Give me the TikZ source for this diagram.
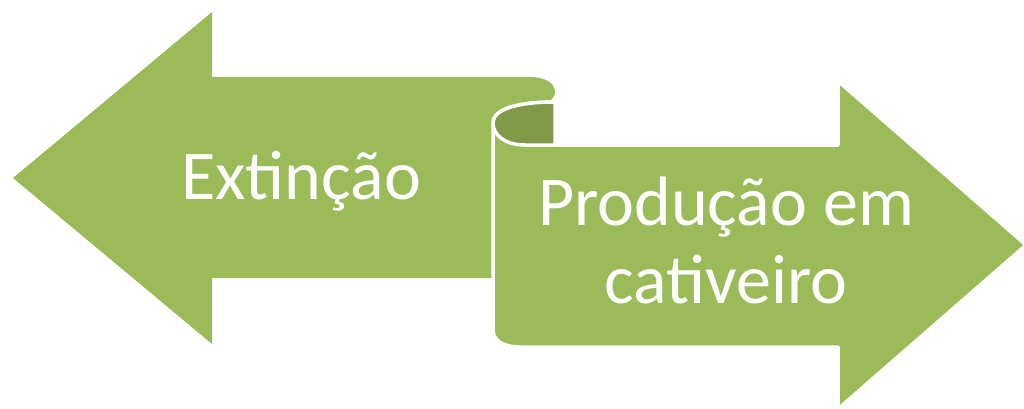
\documentclass[tikz,border=0pt]{standalone}
\usepackage{fontspec}
\setmainfont{Carlito}
\usepackage{tikz}

\definecolor{olive}{HTML}{9BBB59}
\definecolor{darkolive}{HTML}{7E9A47}

\begin{document}
\begin{tikzpicture}[x=1pt, y=-1pt,
    arrowshape/.style={fill=olive, draw=white, line width=3.5pt, line join=round},
    label/.style={text=white, font=\fontsize{70}{78}\selectfont, align=center}]
    \useasboundingbox (0,0) rectangle (1024,409);

    % left arrow
    \fill[olive] (13,178) -- (212,12) -- (212,77) -- (530,77)
        .. controls (545,77) and (555,83) .. (555,92)
        .. controls (555,100) and (545,105) .. (530,106)
        -- (493,120) -- (493,278) -- (212,278) -- (212,344) -- cycle;

    % right arrow with the rolled edge
    \draw[arrowshape] (493,123) .. controls (493,110) and (515,102) .. (555,102)
        -- (555,145) -- (838,145) -- (838,81) -- (1026,245) -- (838,409)
        -- (838,347) -- (520,347) .. controls (503,347) and (493,340) .. (493,330)
        -- cycle;
    \draw[arrowshape, fill=darkolive] (493,123) .. controls (493,110) and (515,102) .. (555,102)
        -- (555,145) -- (525,145) .. controls (505,145) and (493,135) .. (493,123) -- cycle;

    \node[label, anchor=base] (ext) at (301,199) {Extinção};
    \node[label, anchor=base] (prod) at (726,303) {Produção em\\cativeiro};
\end{tikzpicture}
\end{document}
